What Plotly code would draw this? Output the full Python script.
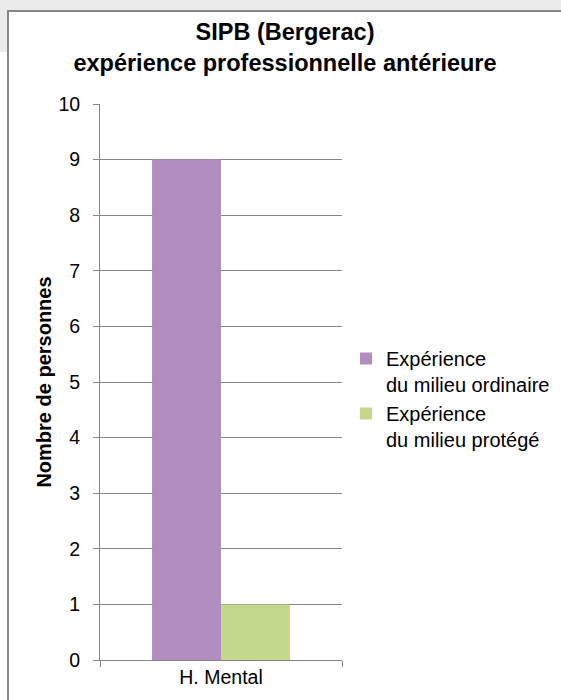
import plotly.graph_objects as go

# Data
categories = ["H. Mental"]
series_names = ["Expérience<br>du milieu ordinaire", "Expérience<br>du milieu protégé"]
ordinaire_values = [9]
protege_values = [1]
series_colors = ["#b18ebf", "#c3d88a"]

FONT = "Arial, 'Liberation Sans', sans-serif"
W, H = 561, 700
L, R, T, B = 100, 219, 104, 40
pw, ph = W - L - R, H - T - B


def px_x(x):
    return (x - L) / pw


def px_y(y):
    return (H - B - y) / ph


fig = go.Figure()
for name, vals, col in zip(series_names, [ordinaire_values, protege_values], series_colors):
    fig.add_trace(go.Bar(x=categories, y=vals, name=name, marker=dict(color=col, line=dict(width=0))))

frame = dict(color="#878787", width=2)
shapes = [
    # grey window strip at the top and the left
    dict(type="rect", xref="paper", yref="paper", x0=px_x(-5), x1=px_x(W + 5), y0=px_y(10), y1=px_y(-5),
         fillcolor="#ebebeb", line=dict(width=0), layer="below"),
    dict(type="rect", xref="paper", yref="paper", x0=px_x(-5), x1=px_x(7), y0=px_y(52), y1=px_y(9),
         fillcolor="#ebebeb", line=dict(width=0), layer="below"),
    # chart frame: top and left edges
    dict(type="line", xref="paper", yref="paper", x0=px_x(7), x1=px_x(W + 5), y0=px_y(11), y1=px_y(11),
         line=frame, layer="below"),
    dict(type="line", xref="paper", yref="paper", x0=px_x(8), x1=px_x(8), y0=px_y(10), y1=px_y(H + 5),
         line=frame, layer="below"),
]

fig.update_layout(
    width=W, height=H,
    margin=dict(l=L, r=R, t=T, b=B, pad=0, autoexpand=False),
    paper_bgcolor="white", plot_bgcolor="rgba(0,0,0,0)",
    font=dict(family=FONT, color="#000000", size=19.5),
    barmode="group", bargap=0.43, bargroupgap=0,
    title=dict(text="<b>SIPB (Bergerac)<br>expérience professionnelle antérieure</b>",
               x=285 / W, xanchor="center", xref="container",
               y=1 - 40 / H, yanchor="top", yref="container",
               font=dict(family=FONT, size=23.5, color="#000000")),
    xaxis=dict(showline=True, linecolor="#868686", linewidth=1, ticks="outside", tickson="boundaries",
               ticklen=6, tickcolor="#868686", showgrid=False,
               tickfont=dict(family=FONT, size=19.5)),
    yaxis=dict(range=[0, 10], dtick=1, showline=True, linecolor="#868686", linewidth=1,
               ticks="outside", ticklen=6, tickcolor="#868686",
               showgrid=True, gridcolor="#868686", gridwidth=1, zeroline=False,
               tickfont=dict(family=FONT, size=19.5), ticklabelstandoff=9,
               title=dict(text="<b>Nombre de personnes</b>", standoff=1,
                          font=dict(family=FONT, size=20))),
    legend=dict(x=px_x(346), xanchor="left", y=px_y(339), yanchor="top",
                font=dict(family=FONT, size=20), valign="top", bgcolor="rgba(0,0,0,0)",
                tracegroupgap=0),
    shapes=shapes,
    showlegend=True,
)

fig.write_html("out.html")
